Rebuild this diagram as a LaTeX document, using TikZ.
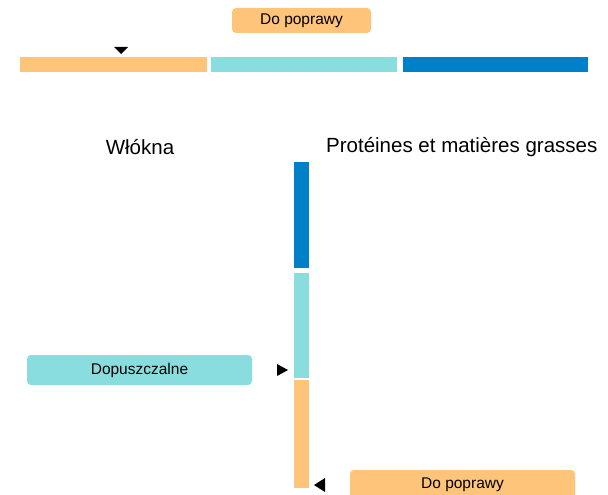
\documentclass[tikz,border=0pt]{standalone}
\usepackage{fontspec}
\setmainfont{Liberation Sans}
\definecolor{pomar}{HTML}{FEC479}
\definecolor{turk}{HTML}{89DDDF}
\definecolor{nieb}{HTML}{0080C9}
\tikzset{
  etykieta/.style={fill=#1, rounded corners=4pt, inner sep=0pt, font=\fontsize{15.5}{18}\selectfont},
  tytul/.style={inner sep=0pt, font=\fontsize{20.5}{24}\selectfont}
}

\begin{document}
\begin{tikzpicture}[x=1pt,y=-1pt]
   \useasboundingbox (0,0) rectangle (608,495);
   % pasek poziomy
   \fill[pomar] (20,57) rectangle (207,72);
   \fill[turk]  (211,57) rectangle (397,72);
   \fill[nieb]  (403,57) rectangle (588,72);
   \fill (114,47) -- (128,47) -- (121,54) -- cycle;
   \node[etykieta=pomar, minimum width=139pt, minimum height=25pt] (gora) at (301.5,20.5) {Do poprawy};
   % tytuly
   \node[tytul] (wlokna) at (140,147) {Włókna};
   \node[tytul, anchor=west] (proteiny) at (326,147) {Protéines et matières grasses};
   % pasek pionowy
   \fill[nieb]  (294,162) rectangle (309,268);
   \fill[turk]  (294,273) rectangle (309,378);
   \fill[pomar] (294,380) rectangle (309,488);
   \fill (277,364) -- (288,370) -- (277,376) -- cycle;
   \fill (325,478) -- (314,485) -- (325,492) -- cycle;
   \node[etykieta=turk, minimum width=225pt, minimum height=30pt] (dopuszczalne) at (139.5,370) {Dopuszczalne};
   \node[etykieta=pomar, minimum width=225pt, minimum height=30pt] (dol) at (462.5,485) {Do poprawy};
\end{tikzpicture}
\end{document}
